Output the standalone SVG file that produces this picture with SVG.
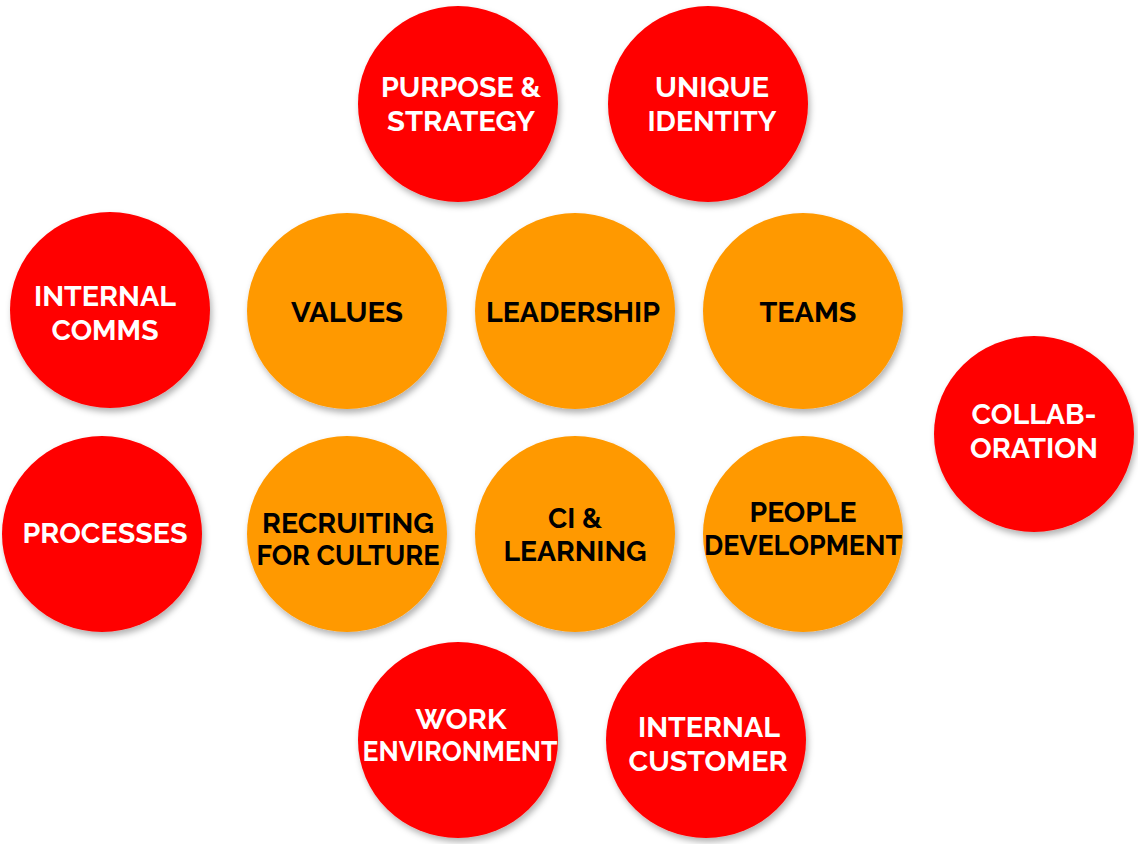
<svg xmlns="http://www.w3.org/2000/svg" width="1138" height="844" viewBox="0 0 1138 844">
<defs>
<filter id="sh" x="-20%" y="-20%" width="140%" height="140%">
<feDropShadow dx="2" dy="4" stdDeviation="3" flood-color="#000" flood-opacity="0.3"/>
</filter>
<style>
.red{fill:#FF0000;filter:url(#sh)}
.org{fill:#FF9900;filter:url(#sh)}
text{font-family:Raleway,"Lato","Open Sans","Liberation Sans",sans-serif;font-weight:700;font-size:28px;text-anchor:middle}
.w{fill:#FFFFFF}
.b{fill:#000000}
</style>
</defs>
<rect width="1138" height="844" fill="#FFFFFF"/>
<g id="purpose"><ellipse class="red" cx="458" cy="104" rx="100" ry="98"/><text class="w" x="461" y="97" textLength="160" lengthAdjust="spacingAndGlyphs">PURPOSE &amp;</text><text class="w" x="461" y="131" textLength="148" lengthAdjust="spacingAndGlyphs">STRATEGY</text></g>
<g id="unique"><ellipse class="red" cx="708" cy="104" rx="100" ry="98"/><text class="w" x="712" y="97" textLength="114" lengthAdjust="spacingAndGlyphs">UNIQUE</text><text class="w" x="712" y="131" textLength="129" lengthAdjust="spacingAndGlyphs">IDENTITY</text></g>
<g id="internal-comms"><ellipse class="red" cx="110" cy="310" rx="100" ry="98"/><text class="w" x="105" y="306" textLength="142" lengthAdjust="spacingAndGlyphs">INTERNAL</text><text class="w" x="105" y="340" textLength="107" lengthAdjust="spacingAndGlyphs">COMMS</text></g>
<g id="values"><ellipse class="org" cx="347" cy="311" rx="100" ry="98"/><text class="b" x="347" y="322" textLength="112" lengthAdjust="spacingAndGlyphs">VALUES</text></g>
<g id="leadership"><ellipse class="org" cx="575" cy="311" rx="100" ry="98"/><text class="b" x="573" y="322" textLength="174" lengthAdjust="spacingAndGlyphs">LEADERSHIP</text></g>
<g id="teams"><ellipse class="org" cx="803" cy="311" rx="100" ry="98"/><text class="b" x="808" y="322" textLength="97" lengthAdjust="spacingAndGlyphs">TEAMS</text></g>
<g id="collaboration"><ellipse class="red" cx="1034" cy="434" rx="100" ry="98"/><text class="w" x="1034" y="424" textLength="125" lengthAdjust="spacingAndGlyphs">COLLAB-</text><text class="w" x="1034" y="458" textLength="128" lengthAdjust="spacingAndGlyphs">ORATION</text></g>
<g id="processes"><ellipse class="red" cx="102" cy="534" rx="100" ry="98"/><text class="w" x="105" y="543" textLength="165" lengthAdjust="spacingAndGlyphs">PROCESSES</text></g>
<g id="recruiting"><ellipse class="org" cx="347" cy="534" rx="100" ry="98"/><text class="b" x="348" y="533" textLength="172" lengthAdjust="spacingAndGlyphs">RECRUITING</text><text class="b" x="348" y="565" textLength="183" lengthAdjust="spacingAndGlyphs">FOR CULTURE</text></g>
<g id="ci-learning"><ellipse class="org" cx="575" cy="534" rx="100" ry="98"/><text class="b" x="575" y="528" textLength="54" lengthAdjust="spacingAndGlyphs">CI &amp;</text><text class="b" x="575" y="561" textLength="143" lengthAdjust="spacingAndGlyphs">LEARNING</text></g>
<g id="people-development"><ellipse class="org" cx="803" cy="534" rx="100" ry="98"/><text class="b" x="803" y="522" textLength="107" lengthAdjust="spacingAndGlyphs">PEOPLE</text><text class="b" x="803" y="555" textLength="198" lengthAdjust="spacingAndGlyphs">DEVELOPMENT</text></g>
<g id="work-environment"><ellipse class="red" cx="458" cy="740" rx="100" ry="98"/><text class="w" x="461" y="729" textLength="91" lengthAdjust="spacingAndGlyphs">WORK</text><text class="w" x="460" y="761" textLength="195" lengthAdjust="spacingAndGlyphs">ENVIRONMENT</text></g>
<g id="internal-customer"><ellipse class="red" cx="706" cy="740" rx="100" ry="98"/><text class="w" x="709" y="737" textLength="142" lengthAdjust="spacingAndGlyphs">INTERNAL</text><text class="w" x="708" y="771" textLength="159" lengthAdjust="spacingAndGlyphs">CUSTOMER</text></g>
<g id="connectors"></g>
</svg>
